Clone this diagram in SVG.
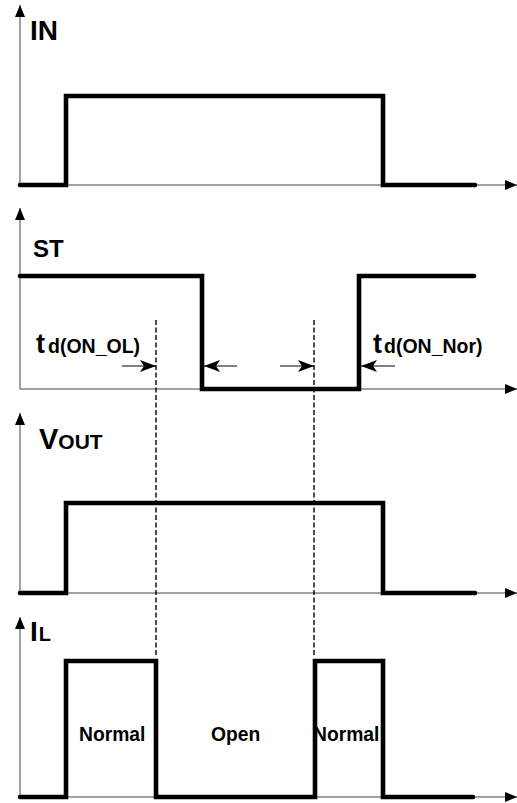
<svg xmlns="http://www.w3.org/2000/svg" width="517" height="803" viewBox="0 0 517 803">
<style>
.ax{stroke:#444;stroke-width:1;fill:none}
.sig{stroke:#000;stroke-width:4.6;fill:none;stroke-linecap:round;stroke-linejoin:miter}
.dash{stroke:#000;stroke-width:1.4;stroke-dasharray:5,2.5;fill:none}
.tm{stroke:#000;stroke-width:1.2;fill:none}
.lb{font-family:"Liberation Sans",Arial,sans-serif;font-weight:bold;fill:#000}
</style>
<defs>
<marker id="ah" viewBox="0 0 12 10" refX="12" refY="5" markerWidth="12" markerHeight="10" markerUnits="userSpaceOnUse" orient="auto"><path d="M0,0 L12,5 L0,10 Z" fill="#000"/></marker>
<marker id="th" viewBox="0 0 16 12" refX="16" refY="6" markerWidth="16" markerHeight="12" markerUnits="userSpaceOnUse" orient="auto"><path d="M0,0 L16,6 L0,12 L4,6 Z" fill="#000"/></marker>
</defs>
<g id="axes">
<path class="ax" d="M20,185 V5" marker-end="url(#ah)"/>
<path class="ax" d="M20,185 H517" marker-end="url(#ah)"/>
<path class="ax" d="M20,389 V208" marker-end="url(#ah)"/>
<path class="ax" d="M20,389 H517" marker-end="url(#ah)"/>
<path class="ax" d="M20,593 V413" marker-end="url(#ah)"/>
<path class="ax" d="M20,593 H517" marker-end="url(#ah)"/>
<path class="ax" d="M20,797 V617" marker-end="url(#ah)"/>
<path class="ax" d="M20,797 H517" marker-end="url(#ah)"/>
</g>
<g id="labels">
<text class="lb" x="30" y="40" font-size="28">IN</text>
<text class="lb" x="33" y="257" font-size="24">ST</text>
<text class="lb" x="39" y="449" font-size="29">V<tspan font-size="21">OUT</tspan></text>
<text class="lb" x="30" y="641" font-size="28">I<tspan font-size="20" dx="1">L</tspan></text>
<text class="lb" x="36" y="353" font-size="27">t<tspan font-size="19.5" dx="3">d(ON_OL)</tspan></text>
<text class="lb" x="373" y="353" font-size="27">t<tspan font-size="19.5" dx="2">d(ON_Nor)</tspan></text>
<text class="lb" x="79" y="741" font-size="19.3">Normal</text>
<text class="lb" x="211" y="741" font-size="19.3">Open</text>
<text class="lb" x="313" y="741" font-size="19.3">Normal</text>
</g>
<g id="dashes">
<path class="dash" d="M156,320 V657"/>
<path class="dash" d="M314,320 V657"/>
</g>
<g id="timing">
<path class="tm" d="M122,366 H156" marker-end="url(#th)"/>
<path class="tm" d="M237,366 H204" marker-end="url(#th)"/>
<path class="tm" d="M280,366 H314" marker-end="url(#th)"/>
<path class="tm" d="M395,366 H361" marker-end="url(#th)"/>
</g>
<g id="signals">
<path id="IN" class="sig" d="M20,185 H66 V96 H383 V185 H475"/>
<path id="ST" class="sig" d="M20,276 H202 V389 H359 V276 H474"/>
<path id="VOUT" class="sig" d="M20,593 H66 V503 H383 V593 H475"/>
<path id="IL" class="sig" d="M20,797 H66 V661 H156 V797 H315 V661 H383 V797 H473"/>
</g>
</svg>
